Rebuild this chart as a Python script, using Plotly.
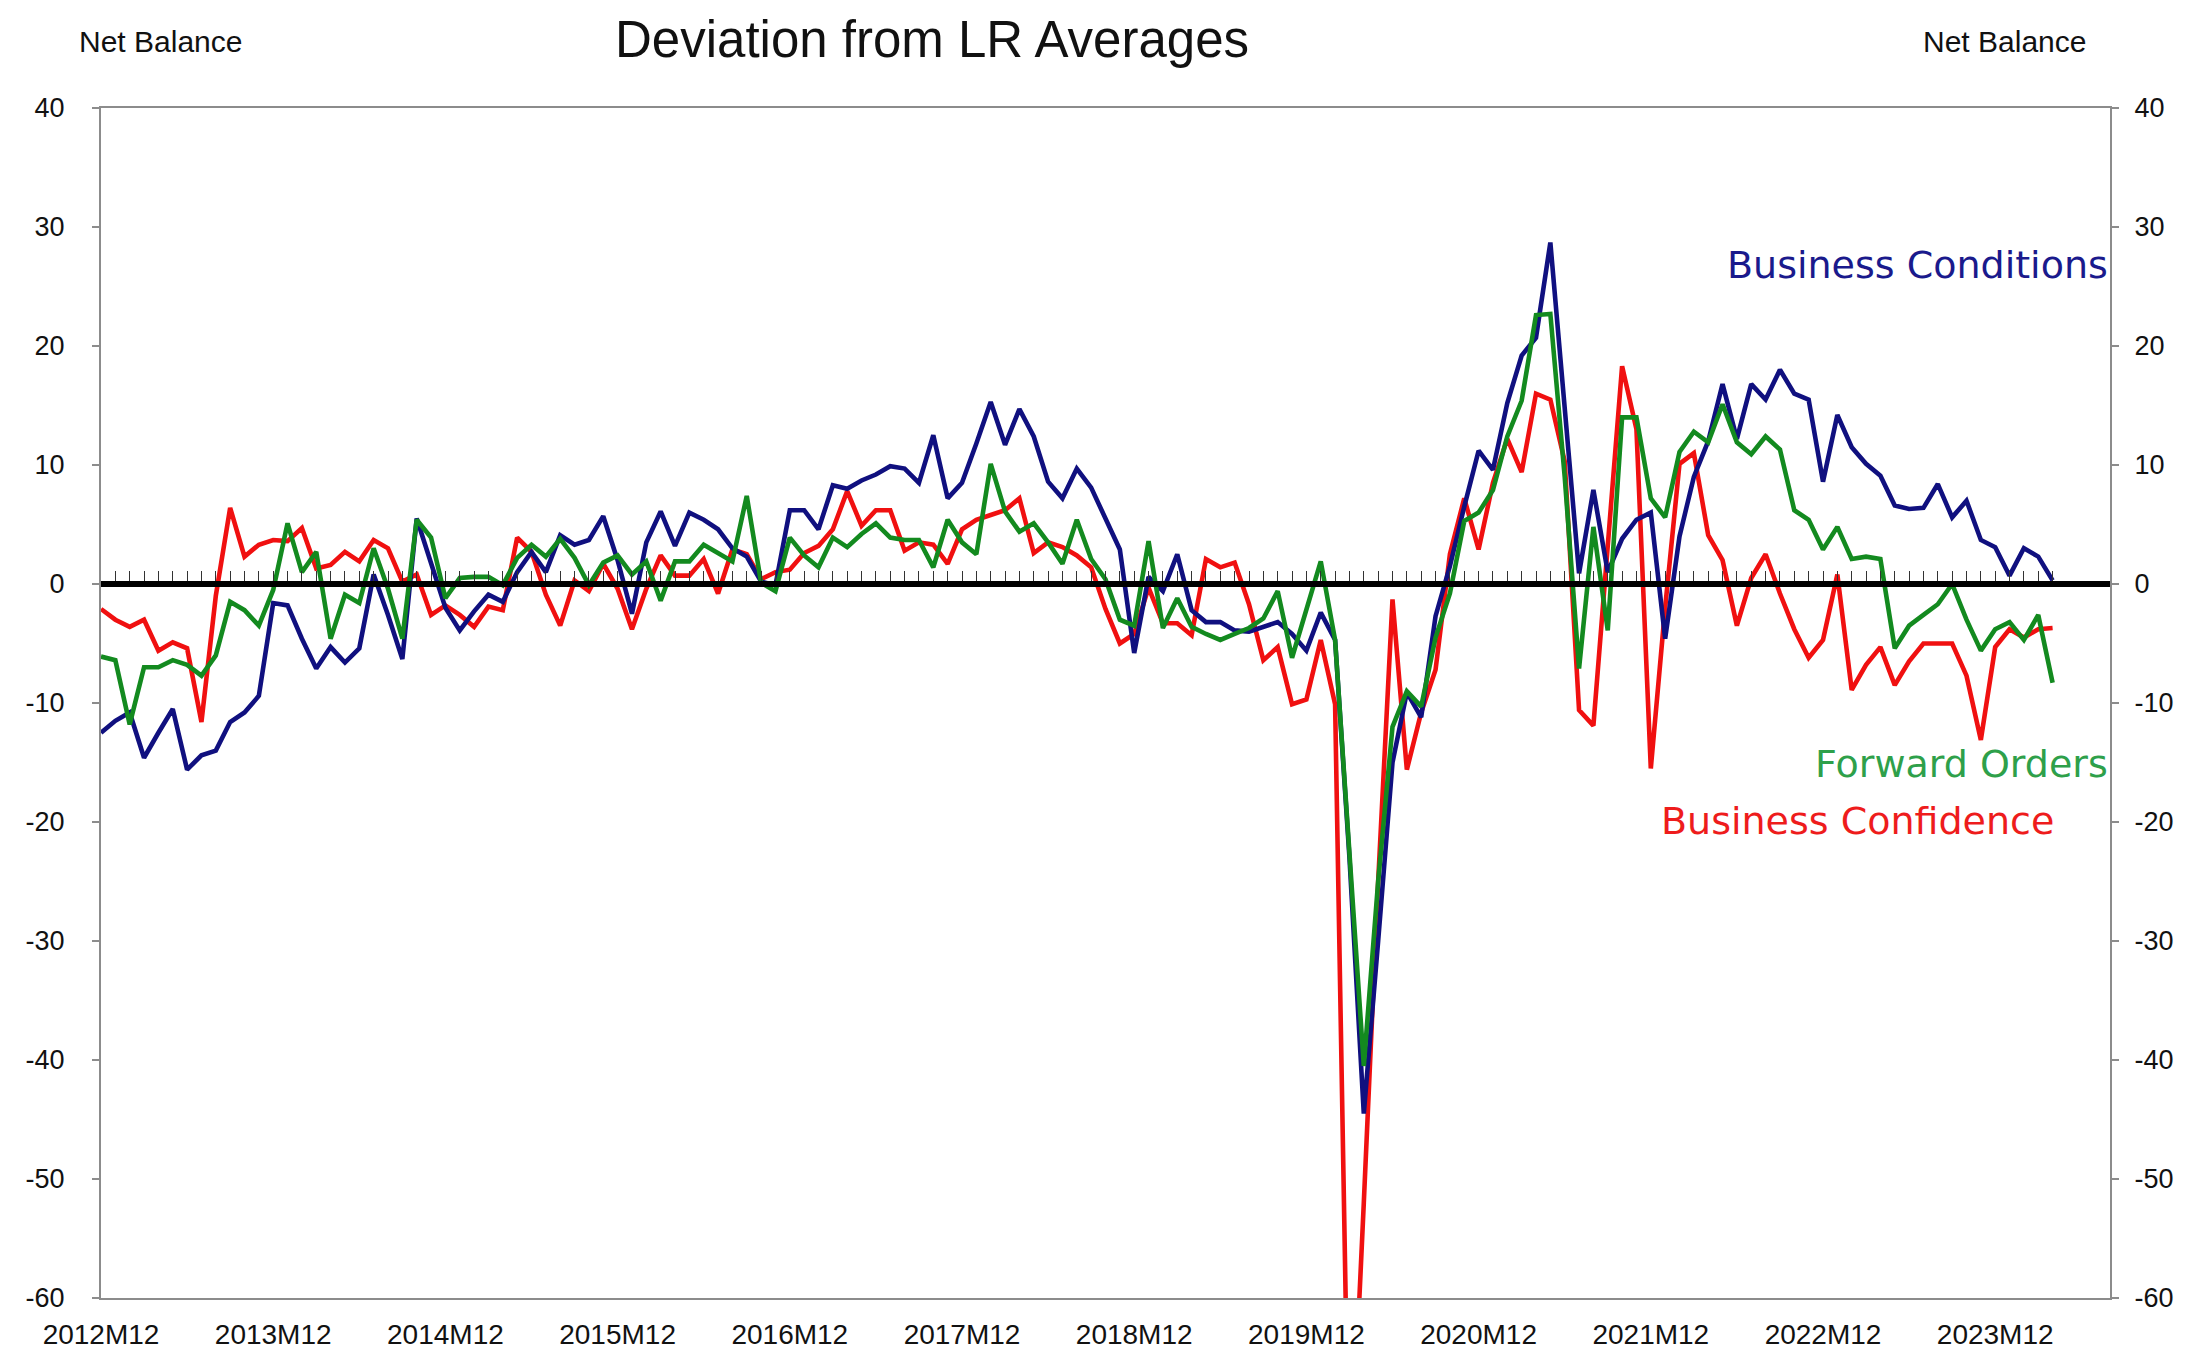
import plotly.graph_objects as go

# Monthly observations 2012M12 .. 2024M04
start_year, start_month, n_obs = 2012, 12, 137
months = []
y_, m_ = start_year, start_month
for _ in range(n_obs):
    months.append(f"{y_}M{m_:02d}")
    m_ += 1
    if m_ > 12:
        m_ = 1
        y_ += 1

year_ticks = ["2012M12", "2013M12", "2014M12", "2015M12", "2016M12", "2017M12",
              "2018M12", "2019M12", "2020M12", "2021M12", "2022M12", "2023M12"]

business_conditions = [
    -12.5, -11.5, -10.8, -14.6, -12.5, -10.5, -15.6, -14.4, -14.0, -11.6,
    -10.8, -9.4, -1.6, -1.8, -4.6, -7.1, -5.3, -6.6, -5.4, 0.8,
    -2.6, -6.3, 5.5, 1.9, -2.0, -3.9, -2.3, -0.9, -1.5, 1.0,
    2.7, 1.0, 4.1, 3.3, 3.7, 5.7, 2.0, -2.5, 3.5, 6.1,
    3.2, 6.0, 5.4, 4.6, 3.0, 2.3, 0.2, -0.1, 6.2, 6.2,
    4.6, 8.3, 8.0, 8.7, 9.2, 9.9, 9.7, 8.5, 12.5, 7.2,
    8.5, 11.8, 15.3, 11.7, 14.7, 12.4, 8.6, 7.2, 9.7, 8.1,
    5.4, 2.9, -5.8, 0.6, -0.6, 2.5, -2.2, -3.2, -3.2, -3.9,
    -4.0, -3.6, -3.2, -4.2, -5.6, -2.4, -4.7, -23.0, -44.5, -30.0,
    -15.0, -9.1, -11.2, -2.7, 1.5, 6.5, 11.2, 9.6, 15.2, 19.2,
    20.7, 28.7, 15.3, 0.9, 7.9, 1.0, 3.8, 5.4, 6.0, -4.6,
    4.0, 9.0, 12.0, 16.8, 12.2, 16.8, 15.5, 18.0, 16.0, 15.5,
    8.6, 14.2, 11.5, 10.1, 9.1, 6.6, 6.3, 6.4, 8.4, 5.6,
    7.0, 3.7, 3.1, 0.7, 3.0, 2.3, 0.3,
]

business_confidence = [
    -2.1, -3.0, -3.6, -3.0, -5.6, -4.9, -5.4, -11.6, -1.0, 6.4,
    2.3, 3.3, 3.7, 3.6, 4.7, 1.3, 1.6, 2.7, 1.9, 3.7,
    3.0, 0.2, 0.8, -2.6, -1.8, -2.6, -3.6, -1.9, -2.2, 3.9,
    2.7, -0.9, -3.5, 0.3, -0.6, 1.7, -0.4, -3.8, -0.4, 2.4,
    0.7, 0.7, 2.1, -0.8, 2.9, 2.5, 0.4, 1.0, 1.2, 2.6,
    3.2, 4.6, 7.8, 4.9, 6.2, 6.2, 2.8, 3.5, 3.3, 1.7,
    4.6, 5.4, 5.8, 6.2, 7.2, 2.6, 3.5, 3.1, 2.4, 1.4,
    -2.1, -5.0, -4.2, -0.3, -3.3, -3.3, -4.3, 2.1, 1.4, 1.8,
    -1.7, -6.4, -5.3, -10.1, -9.7, -4.7, -10.1, -78.0, -52.0, -25.0,
    -1.3, -15.6, -10.8, -7.2, 2.5, 7.2, 2.9, 8.5, 12.2, 9.4,
    16.0, 15.5, 10.3, -10.6, -11.9, 3.0, 18.3, 13.0, -15.5, -2.0,
    10.1, 11.0, 4.1, 2.0, -3.5, 0.5, 2.5, -0.8, -3.8, -6.2,
    -4.7, 0.8, -8.9, -6.8, -5.3, -8.5, -6.5, -5.0, -5.0, -5.0,
    -7.7, -13.1, -5.3, -3.8, -4.5, -3.8, -3.7,
]

forward_orders = [
    -6.1, -6.4, -11.8, -7.0, -7.0, -6.4, -6.8, -7.7, -6.0, -1.5,
    -2.2, -3.5, -0.5, 5.1, 1.0, 2.7, -4.6, -0.9, -1.6, 3.0,
    -0.4, -4.6, 5.4, 3.9, -1.2, 0.5, 0.6, 0.6, -0.1, 2.2,
    3.3, 2.3, 3.8, 2.2, -0.1, 1.8, 2.4, 0.8, 1.9, -1.4,
    1.9, 1.9, 3.3, 2.6, 1.9, 7.4, 0.1, -0.6, 3.9, 2.4,
    1.4, 3.9, 3.1, 4.2, 5.1, 3.9, 3.7, 3.7, 1.4, 5.4,
    3.5, 2.5, 10.1, 6.1, 4.4, 5.1, 3.5, 1.7, 5.4, 2.1,
    0.4, -3.0, -3.5, 3.6, -3.7, -1.2, -3.6, -4.2, -4.7, -4.2,
    -3.7, -2.9, -0.6, -6.2, -2.2, 1.9, -4.7, -22.0, -40.5, -25.0,
    -12.0, -9.0, -10.3, -4.5, -0.8, 5.3, 6.0, 7.9, 12.4, 15.4,
    22.6, 22.7, 9.0, -7.1, 4.8, -3.9, 14.0, 14.0, 7.2, 5.6,
    11.1, 12.8, 11.9, 15.1, 11.9, 10.9, 12.4, 11.3, 6.2, 5.4,
    2.9, 4.8, 2.1, 2.3, 2.1, -5.4, -3.5, -2.6, -1.7, 0.0,
    -3.0, -5.6, -3.8, -3.2, -4.7, -2.6, -8.3,
]

y_ticks = [40, 30, 20, 10, 0, -10, -20, -30, -40, -50, -60]
y_tick_labels = ["40", "30", "20", "10", "0", "-10", "-20", "-30", "-40", "-50", "-60"]

BLUE = "#10107f"
RED = "#f01010"
GREEN = "#138a1f"
AXIS_GRAY = "#8c8c8c"
ARIAL = "Liberation Sans, Arial, sans-serif"
VERDANA = "DejaVu Sans, Verdana, sans-serif"
TICK_FONT = dict(family=ARIAL, size=27, color="#111111")

fig = go.Figure()

# invisible carrier trace for the zero-line axis (x2)
fig.add_trace(go.Scatter(x=months, y=[None] * len(months), xaxis="x2", yaxis="y",
                         mode="lines", showlegend=False, hoverinfo="skip"))

fig.add_trace(go.Scatter(x=months, y=business_confidence, mode="lines",
                         line=dict(color=RED, width=4.6), name="Business Confidence",
                         showlegend=False))
fig.add_trace(go.Scatter(x=months, y=business_conditions, mode="lines",
                         line=dict(color=BLUE, width=4.6), name="Business Conditions",
                         showlegend=False))
fig.add_trace(go.Scatter(x=months, y=forward_orders, mode="lines",
                         line=dict(color=GREEN, width=4.6), name="Forward Orders",
                         showlegend=False))
# right-hand axis carrier
fig.add_trace(go.Scatter(x=months, y=[None] * len(months), yaxis="y2",
                         mode="lines", showlegend=False, hoverinfo="skip"))

x_range = [0, 140]

# page body has an 8px margin: size the figure so the plot area lands at
# x 101..2110, y 108..1298 of the 2198x1352 window
fig.update_layout(
    width=2190, height=1344, autosize=False,
    margin=dict(l=93, r=88, t=100, b=54),
    paper_bgcolor="white", plot_bgcolor="white",
    showlegend=False,
    xaxis=dict(
        type="category", categoryorder="array", categoryarray=months,
        range=x_range, showgrid=False, zeroline=False,
        showline=True, linecolor=AXIS_GRAY, linewidth=2, mirror=True,
        ticks="", tickmode="array", tickvals=year_ticks, ticktext=year_ticks,
        tickfont=dict(family=ARIAL, size=28, color="#111111"),
        ticklabelstandoff=10, automargin=False,
    ),
    xaxis2=dict(
        type="category", categoryorder="array", categoryarray=months,
        overlaying="x", anchor="free", position=0.6, side="bottom",
        range=x_range, showgrid=False, zeroline=False,
        showline=True, linecolor="black", linewidth=6,
        ticks="inside", ticklen=10, tickwidth=1.3, tickcolor="#333333",
        tickmode="linear", tick0=0, dtick=1,
        showticklabels=False, automargin=False,
    ),
    yaxis=dict(
        range=[-60, 40], tickmode="array", tickvals=y_ticks, ticktext=y_tick_labels,
        showgrid=False, zeroline=False,
        showline=True, linecolor=AXIS_GRAY, linewidth=2,
        ticks="outside", ticklen=7, tickwidth=2, tickcolor=AXIS_GRAY,
        tickfont=TICK_FONT, ticklabelstandoff=22, automargin=False,
    ),
    yaxis2=dict(
        range=[-60, 40], tickmode="array", tickvals=y_ticks, ticktext=y_tick_labels,
        overlaying="y", side="right", anchor="x",
        showgrid=False, zeroline=False,
        showline=True, linecolor=AXIS_GRAY, linewidth=2,
        ticks="outside", ticklen=7, tickwidth=2, tickcolor=AXIS_GRAY,
        tickfont=TICK_FONT, ticklabelstandoff=10, automargin=False,
    ),
)

annotations = [
    dict(text="Deviation from LR Averages", x=0.4136, y=1.0832, xanchor="center",
         yanchor="top", font=dict(family=ARIAL, size=51, color="#111111")),
    dict(text="Net Balance", x=0.0294, y=1.0563, xanchor="center", yanchor="middle",
         font=dict(family=ARIAL, size=30, color="#111111")),
    dict(text="Net Balance", x=0.9477, y=1.0563, xanchor="center", yanchor="middle",
         font=dict(family=ARIAL, size=30, color="#111111")),
    dict(text="Business Conditions", x=1.0, y=0.868, xanchor="right", yanchor="middle",
         font=dict(family=VERDANA, size=38, color="#1a1a8c")),
    dict(text="Forward Orders", x=1.0, y=0.449, xanchor="right", yanchor="middle",
         font=dict(family=VERDANA, size=38, color="#2ea04a")),
    dict(text="Business Confidence", x=0.973, y=0.401, xanchor="right", yanchor="middle",
         font=dict(family=VERDANA, size=38, color="#ee1c1c")),
]
for a in annotations:
    a.update(xref="paper", yref="paper", showarrow=False)
fig.update_layout(annotations=annotations)

fig.write_html("out.html")
